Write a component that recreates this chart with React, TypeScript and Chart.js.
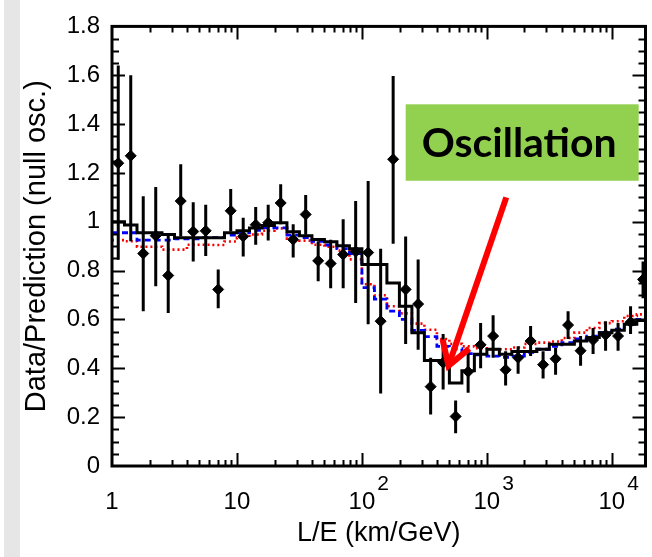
import React, { useEffect, useRef } from 'react';
import { Chart, registerables } from 'chart.js';

Chart.register(...registerables);

// ---- axis ranges ----
const X_MIN = 1;
const X_MAX = 18600;
const Y_MIN = 0;
const Y_MAX = 1.8;

// ---- binning: 43 bins, 0.1 decade wide, starting at L/E = 1 ----
const BIN_LOG_WIDTH = 0.1;
const N_BINS = 43;

// ---- data points (Data/Prediction) and error-bar ends ----
const dataValues = [
  1.24, 1.27, 0.87, 0.943, 0.78, 1.085, 0.96, 0.963, 0.723, 1.045,
  0.94, 0.988, 0.996, 1.077, 0.927, 1.03, 0.84, 0.829, 0.866, 0.878,
  0.874, 0.593, 1.256, 0.723, 0.663, 0.325, 0.423, 0.203, 0.386, 0.496,
  0.532, 0.394, 0.443, 0.512, 0.415, 0.439, 0.577, 0.472, 0.516, 0.537,
  0.532, 0.589, 0.764,
];
const errTop = [
  1.64, 1.6, 1.105, 1.142, 0.95, 1.236, 1.08, 1.07, 0.805, 1.134,
  1.016, 1.06, 1.07, 1.154, 0.99, 1.11, 0.92, 0.926, 1.01, 1.085,
  1.167, 0.89, 1.597, 0.94, 0.846, 0.443, 0.54, 0.268, 0.47, 0.586,
  0.617, 0.47, 0.49, 0.573, 0.47, 0.484, 0.634, 0.532, 0.565, 0.593,
  0.586, 0.654, 0.837,
];
const errBottom = [
  0.845, 0.92, 0.634, 0.736, 0.626, 0.94, 0.837, 0.86, 0.646, 0.96,
  0.858, 0.906, 0.923, 0.99, 0.854, 0.947, 0.756, 0.728, 0.728, 0.667,
  0.58, 0.297, 0.91, 0.5, 0.476, 0.211, 0.313, 0.134, 0.3, 0.4,
  0.443, 0.33, 0.378, 0.45, 0.358, 0.374, 0.52, 0.41, 0.459, 0.472,
  0.472, 0.54, 0.687,
];

// ---- histograms (one value per bin) ----
const blackHist = [
  1.0, 0.987, 0.955, 0.955, 0.948, 0.935, 0.935, 0.935, 0.935, 0.955,
  0.963, 0.975, 0.985, 0.996, 0.959, 0.943, 0.927, 0.918, 0.902, 0.89,
  0.825, 0.825, 0.749, 0.654, 0.546, 0.432, 0.432, 0.34, 0.39, 0.458,
  0.478, 0.458, 0.469, 0.469, 0.478, 0.499, 0.499, 0.512, 0.526, 0.546,
  0.556, 0.58, 0.596,
];
const blueHist = [
  0.955, 0.955, 0.925, 0.925, 0.925, 0.93, 0.93, 0.935, 0.935, 0.945,
  0.955, 0.965, 0.975, 0.975, 0.945, 0.935, 0.92, 0.905, 0.89, 0.87,
  0.73, 0.683, 0.634, 0.6, 0.555, 0.53, 0.49, 0.48, 0.46, 0.455,
  0.45, 0.445, 0.45, 0.465, 0.478, 0.49, 0.505, 0.52, 0.532, 0.546,
  0.56, 0.58, 0.6,
];
const redHist = [
  0.925, 0.92, 0.898, 0.898, 0.886, 0.886, 0.906, 0.906, 0.905, 0.919,
  0.935, 0.948, 0.963, 0.973, 0.931, 0.923, 0.906, 0.898, 0.882, 0.846,
  0.744, 0.699, 0.654, 0.625, 0.583, 0.558, 0.52, 0.5, 0.49, 0.482,
  0.478, 0.478, 0.485, 0.5, 0.505, 0.51, 0.524, 0.546, 0.565, 0.585,
  0.593, 0.614, 0.621,
];

// ---- tick labels ----
const xTickValues = [1, 10, 100, 1000, 10000];
const xTickBase = ['1', '10', '10', '10', '10'];
const xTickExp = ['', '', '2', '3', '4'];
const Y_STEP = 0.2;
const Y_MINOR_STEP = 0.05;

// ---- annotation (in data coordinates) ----
const annotationText = 'Oscillation';
const boxX = [224, 16400];
const boxY = [1.168, 1.481];
const arrowFrom = { x: 1430, y: 1.1 };
const arrowTo = { x: 493, y: 0.41 };

const FONT = "'Liberation Sans', Arial, sans-serif";

const binEdge = (k: number) => Math.pow(10, k * BIN_LOG_WIDTH);
const binCenter = (k: number) => Math.pow(10, (k + 0.5) * BIN_LOG_WIDTH);

const stepData = (vals: number[]) => {
  const pts = vals.map((v, k) => ({ x: binEdge(k), y: v }));
  pts.push({ x: binEdge(N_BINS), y: vals[vals.length - 1] });
  return pts;
};

const pointData = dataValues.map((v, k) => ({ x: binCenter(k), y: v }));

const errorBarPlugin = {
  id: 'errorBars',
  beforeDatasetDraw(chart: any, args: any) {
    if (args.index !== 3) return;
    const { ctx, scales } = chart;
    const x = scales.x;
    const y = scales.y;
    ctx.save();
    ctx.beginPath();
    ctx.rect(chart.chartArea.left, chart.chartArea.top, chart.chartArea.right - chart.chartArea.left, chart.chartArea.bottom - chart.chartArea.top);
    ctx.clip();
    ctx.strokeStyle = '#000';
    ctx.lineWidth = 3;
    for (let k = 0; k < dataValues.length; k++) {
      const px = x.getPixelForValue(binCenter(k));
      ctx.beginPath();
      ctx.moveTo(px, y.getPixelForValue(errTop[k]));
      ctx.lineTo(px, y.getPixelForValue(errBottom[k]));
      ctx.stroke();
    }
    ctx.restore();
  },
};

const framePlugin = {
  id: 'frameTicks',
  afterDraw(chart: any) {
    const { ctx, chartArea: a, scales } = chart;
    const x = scales.x;
    const y = scales.y;
    ctx.save();
    ctx.strokeStyle = '#000';
    ctx.lineWidth = 2;
    // y ticks (left and right, inward)
    const nMinor = Math.round((Y_MAX - Y_MIN) / Y_MINOR_STEP);
    const perMajor = Math.round(Y_STEP / Y_MINOR_STEP);
    for (let i = 1; i < nMinor; i++) {
      const py = Math.round(y.getPixelForValue(Y_MIN + i * Y_MINOR_STEP)) + 0.5;
      const len = i % perMajor === 0 ? 13 : 7;
      ctx.beginPath();
      ctx.moveTo(a.left, py);
      ctx.lineTo(a.left + len, py);
      ctx.moveTo(a.right, py);
      ctx.lineTo(a.right - len, py);
      ctx.stroke();
    }
    // x ticks (bottom and top, inward)
    for (let d = 0; d <= 5; d++) {
      for (let m = 1; m <= 9; m++) {
        const v = m * Math.pow(10, d);
        if (v <= X_MIN || v >= X_MAX) continue;
        const px = Math.round(x.getPixelForValue(v)) + 0.5;
        const len = m === 1 ? 13 : 6;
        ctx.beginPath();
        ctx.moveTo(px, a.bottom);
        ctx.lineTo(px, a.bottom - len);
        ctx.moveTo(px, a.top);
        ctx.lineTo(px, a.top + len);
        ctx.stroke();
      }
    }
    ctx.lineWidth = 3;
    ctx.strokeRect(a.left, a.top, a.right - a.left, a.bottom - a.top);

    // x tick labels with exponents
    ctx.fillStyle = '#000';
    ctx.textBaseline = 'alphabetic';
    for (let i = 0; i < xTickValues.length; i++) {
      const px = x.getPixelForValue(xTickValues[i]);
      ctx.font = `24px ${FONT}`;
      const w = ctx.measureText(xTickBase[i]).width;
      ctx.textAlign = 'center';
      ctx.fillText(xTickBase[i], px, a.bottom + 43);
      if (xTickExp[i]) {
        ctx.font = `21px ${FONT}`;
        ctx.textAlign = 'left';
        ctx.fillText(xTickExp[i], px + w / 2 + 2, a.bottom + 24);
      }
    }

    // annotation box
    const bx0 = x.getPixelForValue(boxX[0]);
    const bx1 = x.getPixelForValue(boxX[1]);
    const by0 = y.getPixelForValue(boxY[1]);
    const by1 = y.getPixelForValue(boxY[0]);
    ctx.fillStyle = '#92D050';
    ctx.fillRect(bx0, by0, bx1 - bx0, by1 - by0);
    ctx.fillStyle = '#000';
    ctx.font = `bold 41px Lato, 'Open Sans', sans-serif`;
    ctx.textAlign = 'center';
    ctx.textBaseline = 'middle';
    ctx.fillText(annotationText, (bx0 + bx1) / 2 - 3, (by0 + by1) / 2 + 1);

    // arrow
    const sx = x.getPixelForValue(arrowFrom.x);
    const sy = y.getPixelForValue(arrowFrom.y);
    const tx = x.getPixelForValue(arrowTo.x);
    const ty = y.getPixelForValue(arrowTo.y);
    const ang = Math.atan2(sy - ty, sx - tx);
    const headLen = 27;
    const spread = 0.55;
    ctx.strokeStyle = '#ff0000';
    ctx.lineWidth = 6;
    ctx.lineCap = 'butt';
    ctx.lineJoin = 'miter';
    ctx.beginPath();
    ctx.moveTo(sx, sy);
    ctx.lineTo(tx + Math.cos(ang) * 3, ty + Math.sin(ang) * 3);
    ctx.stroke();
    ctx.beginPath();
    ctx.moveTo(tx + Math.cos(ang - spread) * headLen, ty + Math.sin(ang - spread) * headLen);
    ctx.lineTo(tx, ty);
    ctx.lineTo(tx + Math.cos(ang + spread) * headLen, ty + Math.sin(ang + spread) * headLen);
    ctx.stroke();
    ctx.restore();
  },
};

export default function App() {
  const ref = useRef<HTMLCanvasElement>(null);

  useEffect(() => {
    const canvas = ref.current;
    if (!canvas) return;
    const chart = new Chart(canvas, {
      type: 'line',
      data: {
        datasets: [
          {
            label: 'Prediction (osc. best fit)',
            data: stepData(blackHist),
            stepped: true,
            borderColor: '#000',
            borderWidth: 3,
            pointRadius: 0,
            fill: false,
            order: 1,
          },
          {
            label: 'Alternative 1',
            data: stepData(blueHist),
            stepped: true,
            borderColor: '#0000ff',
            borderWidth: 2.8,
            borderDash: [6, 4],
            pointRadius: 0,
            fill: false,
            order: 2,
          },
          {
            label: 'Alternative 2',
            data: stepData(redHist),
            stepped: true,
            borderColor: '#ff0000',
            borderWidth: 2.6,
            borderDash: [2, 3],
            pointRadius: 0,
            fill: false,
            order: 3,
          },
          {
            type: 'scatter',
            label: 'Data',
            data: pointData,
            showLine: false,
            pointStyle: 'rectRot',
            pointRadius: 5.5,
            backgroundColor: '#000',
            borderColor: '#000',
            borderWidth: 1,
            order: 0,
          } as any,
        ],
      },
      options: {
        animation: false,
        responsive: false,
        maintainAspectRatio: false,
        devicePixelRatio: 1,
        layout: { padding: { top: 23, right: 4, bottom: 0, left: 0 } },
        plugins: {
          legend: { display: false },
          tooltip: { enabled: false },
        },
        scales: {
          x: {
            type: 'logarithmic',
            min: X_MIN,
            max: X_MAX,
            grid: { display: false, drawTicks: false },
            border: { display: false },
            ticks: { display: false },
            title: {
              display: true,
              text: 'L/E (km/GeV)',
              color: '#000',
              font: { size: 27, family: FONT },
              padding: { top: 0, bottom: 7 },
            },
            afterFit: (s: any) => {
              s.height = 91;
            },
          },
          y: {
            type: 'linear',
            min: Y_MIN,
            max: Y_MAX,
            grid: { display: false, drawTicks: false },
            border: { display: false },
            ticks: {
              stepSize: Y_STEP,
              padding: 12,
              color: '#000',
              font: { size: 24, family: FONT },
              callback: (v: any) => String(Number(Number(v).toFixed(1))),
            },
            title: {
              display: true,
              text: 'Data/Prediction (null osc.)',
              color: '#000',
              font: { size: 29, family: FONT },
              padding: { top: 20, bottom: 0 },
            },
            afterFit: (s: any) => {
              s.width = 112;
            },
          },
        },
      } as any,
      plugins: [errorBarPlugin, framePlugin],
    });
    return () => chart.destroy();
  }, []);

  return (
    <div style={{ position: 'fixed', left: 0, top: 0, width: 652, height: 557, background: '#fff' }}>
      <div style={{ position: 'absolute', left: 4, top: 0, width: 16, height: 557, background: '#e6e6e6' }} />
      <canvas
        ref={ref}
        width={652}
        height={557}
        style={{ position: 'absolute', left: 0, top: 0, width: 652, height: 557, display: 'block' }}
      />
    </div>
  );
}
